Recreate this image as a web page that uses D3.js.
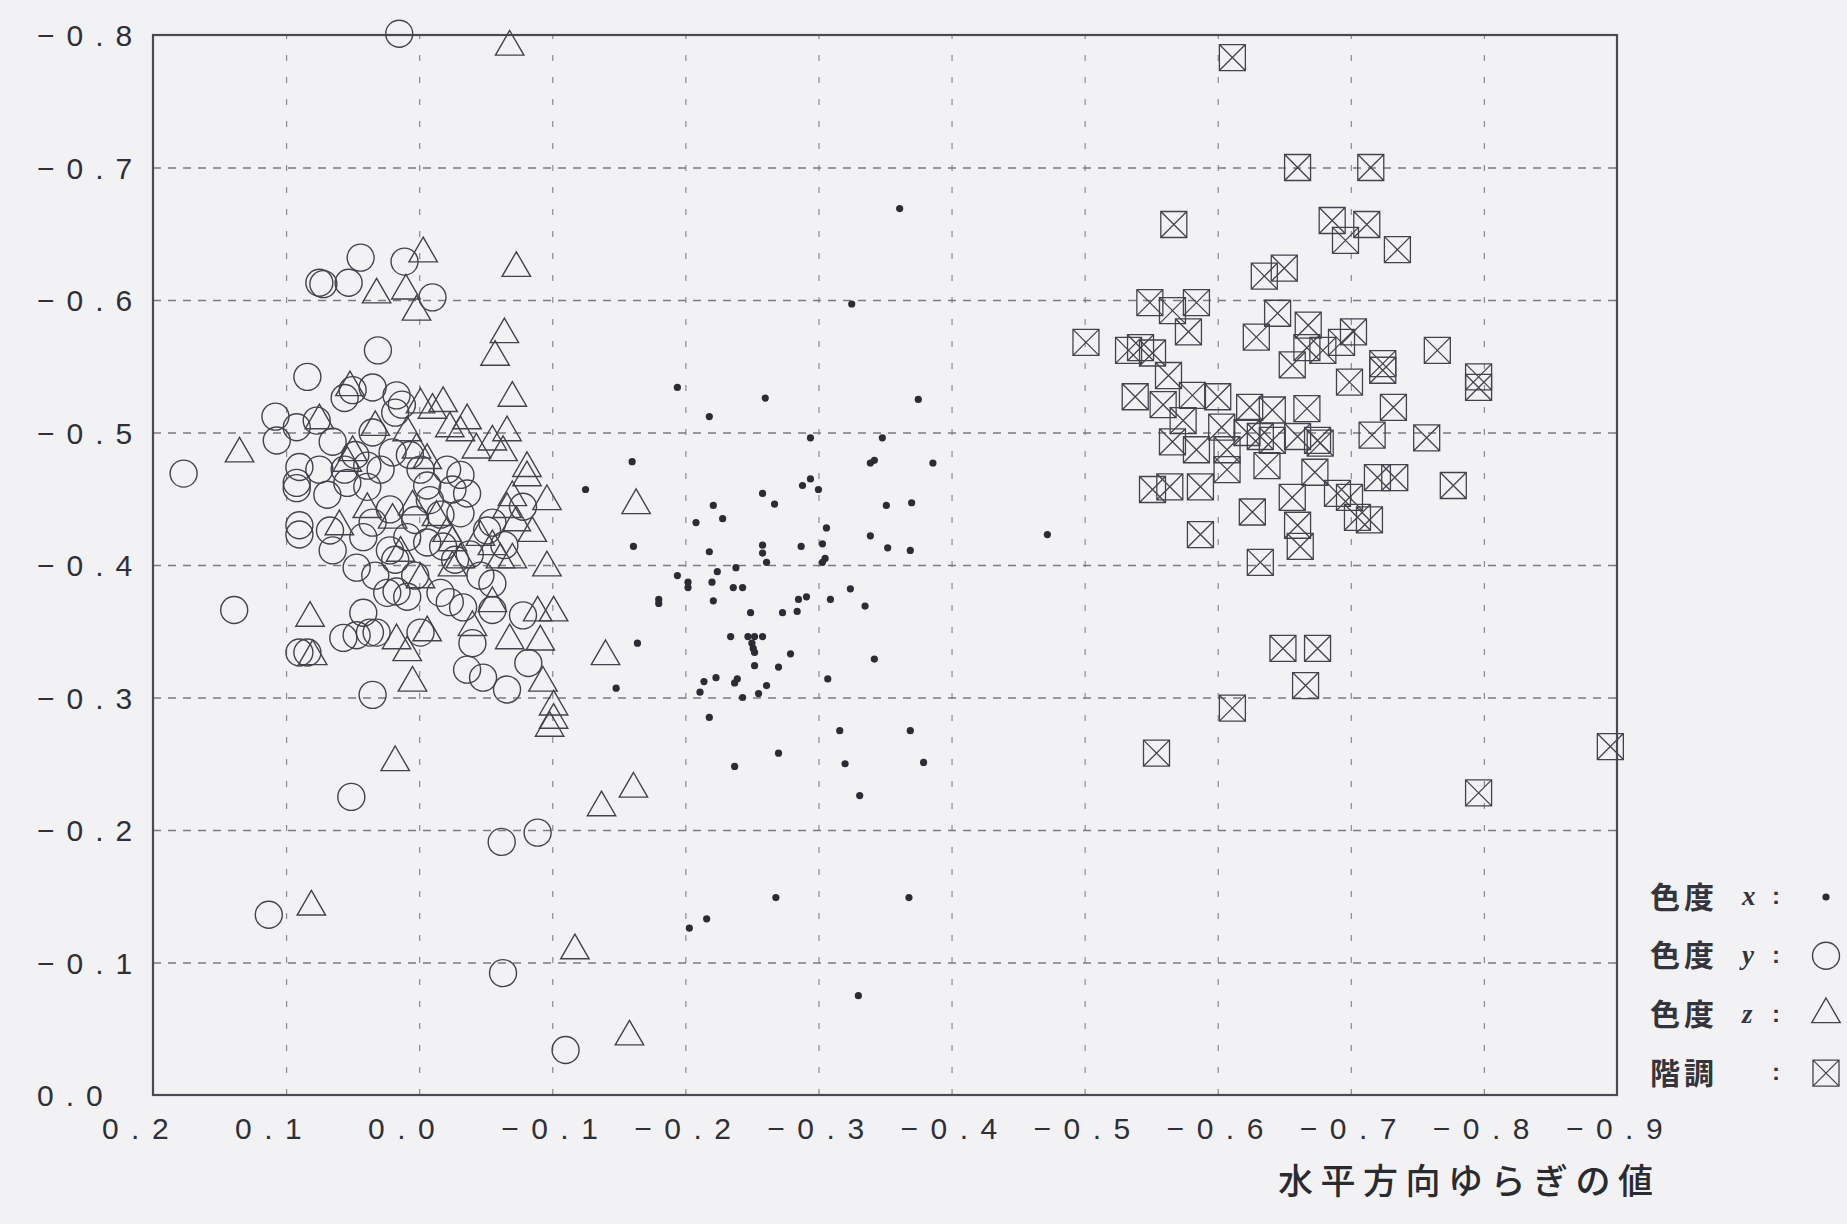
<!DOCTYPE html>
<html>
<head>
<meta charset="utf-8">
<script src="https://cdn.jsdelivr.net/npm/d3@7"></script>
<style>
  html, body { margin: 0; padding: 0; background: #f2f2f4; }
  svg { display: block; }
</style>
</head>
<body>
<div class="d3Chart"></div>
<script>
// tick values / labels
const xTicks = [0.2, 0.1, 0.0, -0.1, -0.2, -0.3, -0.4, -0.5, -0.6, -0.7, -0.8, -0.9]
const yTicks = [0.0, -0.1, -0.2, -0.3, -0.4, -0.5, -0.6, -0.7, -0.8]
const xTitle = '水平方向ゆらぎの値'
const legendNames = ['色度', '色度', '色度', '階調']
const legendVars = ['x', 'y', 'z', '']
const legendKinds = ['dot', 'circle', 'triangle', 'square']

// 色度 x (dots)
const chromaX = [
  [-0.361,-0.669],[-0.325,-0.597],[-0.194,-0.534],[-0.260,-0.526],[-0.375,-0.525],[-0.218,-0.512],
  [-0.294,-0.496],[-0.348,-0.496],[-0.125,-0.457],[-0.160,-0.478],[-0.339,-0.477],[-0.342,-0.479],
  [-0.386,-0.477],[-0.288,-0.460],[-0.294,-0.465],[-0.300,-0.457],[-0.258,-0.454],[-0.267,-0.446],
  [-0.221,-0.445],[-0.351,-0.445],[-0.370,-0.447],[-0.208,-0.432],[-0.228,-0.435],[-0.306,-0.428],
  [-0.339,-0.422],[-0.472,-0.423],[-0.161,-0.414],[-0.218,-0.410],[-0.258,-0.415],[-0.258,-0.409],
  [-0.287,-0.414],[-0.303,-0.416],[-0.352,-0.413],[-0.369,-0.411],[-0.261,-0.402],[-0.305,-0.405],
  [-0.303,-0.402],[-0.194,-0.392],[-0.202,-0.387],[-0.202,-0.383],[-0.224,-0.395],[-0.238,-0.398],
  [-0.220,-0.387],[-0.236,-0.383],[-0.243,-0.383],[-0.324,-0.382],[-0.180,-0.374],[-0.180,-0.371],
  [-0.221,-0.373],[-0.285,-0.374],[-0.291,-0.376],[-0.309,-0.374],[-0.335,-0.369],[-0.249,-0.364],
  [-0.273,-0.364],[-0.284,-0.365],[-0.164,-0.341],[-0.234,-0.346],[-0.247,-0.346],[-0.252,-0.346],
  [-0.258,-0.346],[-0.250,-0.341],[-0.251,-0.337],[-0.252,-0.334],[-0.279,-0.333],[-0.342,-0.329],
  [-0.252,-0.324],[-0.270,-0.323],[-0.148,-0.307],[-0.214,-0.312],[-0.211,-0.304],[-0.223,-0.315],
  [-0.237,-0.311],[-0.239,-0.314],[-0.255,-0.303],[-0.261,-0.309],[-0.243,-0.300],[-0.307,-0.314],
  [-0.218,-0.285],[-0.316,-0.275],[-0.369,-0.275],[-0.270,-0.258],[-0.237,-0.248],[-0.320,-0.250],
  [-0.379,-0.251],[-0.331,-0.226],[-0.203,-0.126],[-0.216,-0.133],[-0.268,-0.149],[-0.368,-0.149],
  [-0.330,-0.075]
]

// 色度 y (circles)
const chromaY = [
  [0.015,-0.801],[0.044,-0.632],[0.011,-0.629],[0.075,-0.613],[0.072,-0.612],[0.053,-0.613],
  [-0.010,-0.602],[0.031,-0.562],[0.084,-0.542],[0.056,-0.526],[0.050,-0.532],[0.035,-0.534],
  [0.017,-0.528],[0.108,-0.512],[0.077,-0.509],[0.035,-0.500],[0.107,-0.494],[0.092,-0.504],
  [0.065,-0.493],[0.090,-0.474],[0.039,-0.475],[0.020,-0.485],[0.018,-0.515],[0.013,-0.521],
  [-0.021,-0.472],[-0.031,-0.468],[0.177,-0.469],[0.139,-0.366],[0.113,-0.136],[0.051,-0.225],
  [0.035,-0.302],[-0.062,-0.191],[-0.089,-0.198],[-0.063,-0.092],[-0.110,-0.034],
  [0.092,-0.462],[0.092,-0.458],[0.069,-0.453],[0.090,-0.430],[0.090,-0.423],[0.067,-0.426],
  [0.065,-0.411],[0.047,-0.398],[0.042,-0.421],[0.035,-0.432],[0.024,-0.379],[0.017,-0.380],
  [0.009,-0.376],[0.042,-0.364],[0.057,-0.345],[0.047,-0.347],[0.037,-0.349],[0.032,-0.349],
  [0.090,-0.334],[0.084,-0.334],[-0.001,-0.349],[-0.016,-0.379],[-0.023,-0.372],[-0.033,-0.368],
  [-0.055,-0.386],[-0.055,-0.366],[-0.078,-0.362],[-0.040,-0.341],[-0.036,-0.321],[-0.048,-0.315],
  [-0.066,-0.306],[-0.082,-0.326],[-0.051,-0.426],[-0.055,-0.432],[-0.036,-0.454],[-0.078,-0.444],
  [0.022,-0.442],[0.009,-0.421],[0.022,-0.411],[0.054,-0.462],[0.039,-0.459],[-0.006,-0.460],
  [-0.025,-0.457],[-0.031,-0.439],[-0.006,-0.417],[-0.018,-0.414],[0.007,-0.483],[-0.001,-0.472],
  [-0.008,-0.449],[-0.016,-0.438],[0.003,-0.434],[0.029,-0.472],[0.048,-0.483],[0.056,-0.472],
  [0.075,-0.472],[0.018,-0.404],[0.003,-0.392],[0.033,-0.392],[-0.038,-0.408],[-0.046,-0.392],
  [-0.064,-0.415],[-0.027,-0.404]
]

// 色度 z (triangles)
const chromaZ = [
  [-0.068,-0.791],[-0.003,-0.635],[-0.073,-0.624],[0.032,-0.604],[0.010,-0.607],[0.002,-0.591],
  [-0.064,-0.574],[-0.057,-0.557],[-0.070,-0.526],[0.052,-0.534],[0.135,-0.484],[-0.001,-0.521],
  [-0.018,-0.522],[-0.010,-0.517],[-0.036,-0.509],[-0.023,-0.503],[-0.031,-0.500],[0.033,-0.504],
  [0.009,-0.500],[0.050,-0.485],[0.054,-0.477],[-0.055,-0.493],[-0.066,-0.500],[-0.063,-0.485],
  [-0.081,-0.473],[0.075,-0.509],[0.002,-0.487],[-0.006,-0.479],[-0.043,-0.487],[-0.081,-0.466],
  [-0.096,-0.448],[-0.070,-0.451],[-0.066,-0.442],[-0.085,-0.424],[-0.073,-0.432],[-0.096,-0.398],
  [-0.070,-0.404],[-0.061,-0.404],[-0.025,-0.398],[-0.031,-0.404],[-0.001,-0.389],[-0.055,-0.371],
  [-0.089,-0.364],[-0.101,-0.364],[0.082,-0.360],[0.080,-0.331],[0.017,-0.343],[0.009,-0.334],
  [-0.006,-0.349],[-0.040,-0.353],[-0.068,-0.343],[-0.091,-0.342],[0.005,-0.311],[-0.093,-0.311],
  [-0.101,-0.293],[-0.101,-0.283],[0.039,-0.442],[0.020,-0.434],[0.005,-0.444],[-0.013,-0.436],
  [-0.025,-0.417],[-0.021,-0.424],[0.014,-0.409],[-0.046,-0.421],[-0.055,-0.414],[0.060,-0.429],
  [0.018,-0.251],[-0.140,-0.331],[-0.098,-0.277],[-0.137,-0.217],[-0.161,-0.231],[0.081,-0.142],
  [-0.117,-0.109],[-0.158,-0.044],[-0.163,-0.445]
]

// 階調 (boxed crosses)
const gradation = [
  [-0.611,-0.783],[-0.660,-0.700],[-0.715,-0.700],[-0.567,-0.657],[-0.686,-0.660],[-0.712,-0.657],
  [-0.696,-0.645],[-0.735,-0.638],[-0.635,-0.618],[-0.650,-0.624],[-0.549,-0.598],[-0.566,-0.592],
  [-0.584,-0.598],[-0.578,-0.576],[-0.501,-0.568],[-0.533,-0.562],[-0.542,-0.564],[-0.551,-0.560],
  [-0.645,-0.590],[-0.668,-0.581],[-0.629,-0.572],[-0.702,-0.576],[-0.693,-0.568],[-0.667,-0.564],
  [-0.679,-0.562],[-0.656,-0.551],[-0.724,-0.552],[-0.724,-0.547],[-0.699,-0.538],[-0.765,-0.562],
  [-0.796,-0.542],[-0.796,-0.534],[-0.563,-0.543],[-0.538,-0.527],[-0.559,-0.521],[-0.581,-0.528],
  [-0.600,-0.527],[-0.574,-0.509],[-0.624,-0.519],[-0.641,-0.517],[-0.667,-0.518],[-0.732,-0.519],
  [-0.566,-0.493],[-0.584,-0.487],[-0.603,-0.504],[-0.607,-0.487],[-0.622,-0.500],[-0.632,-0.497],
  [-0.641,-0.494],[-0.660,-0.497],[-0.675,-0.494],[-0.677,-0.492],[-0.716,-0.498],[-0.757,-0.496],
  [-0.637,-0.475],[-0.607,-0.472],[-0.551,-0.457],[-0.564,-0.459],[-0.587,-0.459],[-0.673,-0.470],
  [-0.720,-0.466],[-0.733,-0.466],[-0.777,-0.460],[-0.656,-0.451],[-0.690,-0.454],[-0.699,-0.451],
  [-0.626,-0.440],[-0.660,-0.430],[-0.705,-0.436],[-0.714,-0.434],[-0.587,-0.423],[-0.662,-0.414],
  [-0.632,-0.402],[-0.649,-0.337],[-0.675,-0.337],[-0.666,-0.309],[-0.611,-0.292],[-0.554,-0.258],
  [-0.796,-0.228],[-0.895,-0.263]
]

const width = 1847
const height = 1224
const plot = { left: 153, right: 1617, top: 35, bottom: 1095 }
const ink = '#43434d'
const numFont = '"Liberation Sans", Arial, sans-serif'
const cjkFont = '"Noto Sans CJK JP", "Noto Sans CJK SC", sans-serif'

const x = d3.scaleLinear().domain([0.2, -0.9]).range([plot.left, plot.right])
const y = d3.scaleLinear().domain([0, -0.8]).range([plot.bottom, plot.top])

const fmt = v => (v < 0 ? '\u2212' : '') + Math.abs(v).toFixed(1)

const svg = d3.select('.d3Chart')
  .append('svg')
  .attr('width', width)
  .attr('height', height)

svg.append('rect')
  .attr('width', width)
  .attr('height', height)
  .attr('fill', '#f2f2f4')

// grid lines (interior only)
const gridX = svg.append('g')
  .attr('transform', `translate(0, ${plot.bottom})`)
  .call(d3.axisBottom(x).tickValues(xTicks.slice(1, -1)).tickSize(-(plot.bottom - plot.top)).tickFormat(''))
gridX.select('.domain').remove()
gridX.selectAll('line')
  .attr('stroke', '#8a8a92')
  .attr('stroke-width', 1.2)
  .attr('stroke-dasharray', '6,16')

const gridY = svg.append('g')
  .attr('transform', `translate(${plot.left}, 0)`)
  .call(d3.axisLeft(y).tickValues(yTicks.slice(1, -1)).tickSize(-(plot.right - plot.left)).tickFormat(''))
gridY.select('.domain').remove()
gridY.selectAll('line')
  .attr('stroke', '#7a7a84')
  .attr('stroke-width', 1.4)
  .attr('stroke-dasharray', '8,7')

// frame
svg.append('rect')
  .attr('x', plot.left)
  .attr('y', plot.top)
  .attr('width', plot.right - plot.left)
  .attr('height', plot.bottom - plot.top)
  .attr('fill', 'none')
  .attr('stroke', '#4a4a55')
  .attr('stroke-width', 2.2)

// x tick labels
const xAxis = svg.append('g')
  .attr('transform', `translate(0, ${plot.bottom})`)
  .call(d3.axisBottom(x).tickValues(xTicks).tickSize(0).tickFormat(fmt))
xAxis.select('.domain').remove()
xAxis.selectAll('text')
  .attr('y', 33)
  .attr('dy', '0.35em')
  .attr('dx', d => (d < 0 ? 3 : -12))
  .attr('font-family', numFont)
  .attr('font-size', 30)
  .attr('letter-spacing', 12.5)
  .attr('fill', '#2f2f37')

// y tick labels
const yAxis = svg.append('g')
  .call(d3.axisLeft(y).tickValues(yTicks).tickSize(0).tickFormat(fmt))
yAxis.select('.domain').remove()
yAxis.selectAll('text')
  .attr('x', 37)
  .attr('dy', '0.35em')
  .attr('text-anchor', 'start')
  .attr('font-family', numFont)
  .attr('font-size', 30)
  .attr('letter-spacing', 12)
  .attr('fill', '#2f2f37')

// marker shapes
const triangle = d3.symbol().type(d3.symbolTriangle).size(350)
const boxCross = s => {
  const h = s / 2
  return `M${-h},${-h}H${h}V${h}H${-h}Z M${-h},${-h}L${h},${h} M${h},${-h}L${-h},${h}`
}

const drawMarker = (sel, kind) => {
  if (kind === 'dot') {
    sel.append('circle').attr('r', 3.6).attr('fill', '#2c2c35')
  } else if (kind === 'circle') {
    sel.append('circle').attr('r', 13.5).attr('fill', 'none').attr('stroke', ink).attr('stroke-width', 1.4)
  } else if (kind === 'triangle') {
    sel.append('path').attr('d', triangle()).attr('fill', 'none').attr('stroke', ink).attr('stroke-width', 1.4)
  } else {
    sel.append('path').attr('d', boxCross(26)).attr('fill', 'none').attr('stroke', ink).attr('stroke-width', 1.3)
  }
}

const drawSeries = (data, kind) => {
  svg.append('g')
    .selectAll('g')
    .data(data)
    .enter()
    .append('g')
    .attr('transform', d => `translate(${x(d[0])}, ${y(d[1])})`)
    .each(function () { drawMarker(d3.select(this), kind) })
}

drawSeries(chromaY, 'circle')
drawSeries(chromaZ, 'triangle')
drawSeries(gradation, 'square')
drawSeries(chromaX, 'dot')

// x axis title
svg.append('text')
  .attr('x', 1278)
  .attr('y', 1182)
  .attr('dy', '0.35em')
  .attr('font-family', cjkFont)
  .attr('font-weight', 500)
  .attr('font-size', 35)
  .attr('letter-spacing', 7.5)
  .attr('fill', '#2a2a31')
  .text(xTitle)

// legend
const legend = svg.append('g')
  .selectAll('g')
  .data(legendKinds)
  .enter()
  .append('g')
  .attr('transform', (d, i) => `translate(0, ${897 + i * 58.7})`)

legend.append('text')
  .attr('x', 1650)
  .attr('dy', '0.35em')
  .attr('font-family', cjkFont)
  .attr('font-weight', 'bold')
  .attr('font-size', 30)
  .attr('letter-spacing', 4)
  .attr('fill', '#34343c')
  .text((d, i) => legendNames[i])

legend.append('text')
  .attr('x', 1742)
  .attr('dy', '0.3em')
  .attr('font-family', '"Liberation Serif", serif')
  .attr('font-style', 'italic')
  .attr('font-weight', 'bold')
  .attr('font-size', 27)
  .attr('fill', '#34343c')
  .text((d, i) => legendVars[i])

legend.append('text')
  .attr('x', 1772)
  .attr('dy', '0.3em')
  .attr('font-family', numFont)
  .attr('font-weight', 'bold')
  .attr('font-size', 24)
  .attr('fill', '#34343c')
  .text(':')

legend.append('g')
  .attr('transform', 'translate(1826, 0)')
  .each(function (d) { drawMarker(d3.select(this), d) })
</script>
</body>
</html>
